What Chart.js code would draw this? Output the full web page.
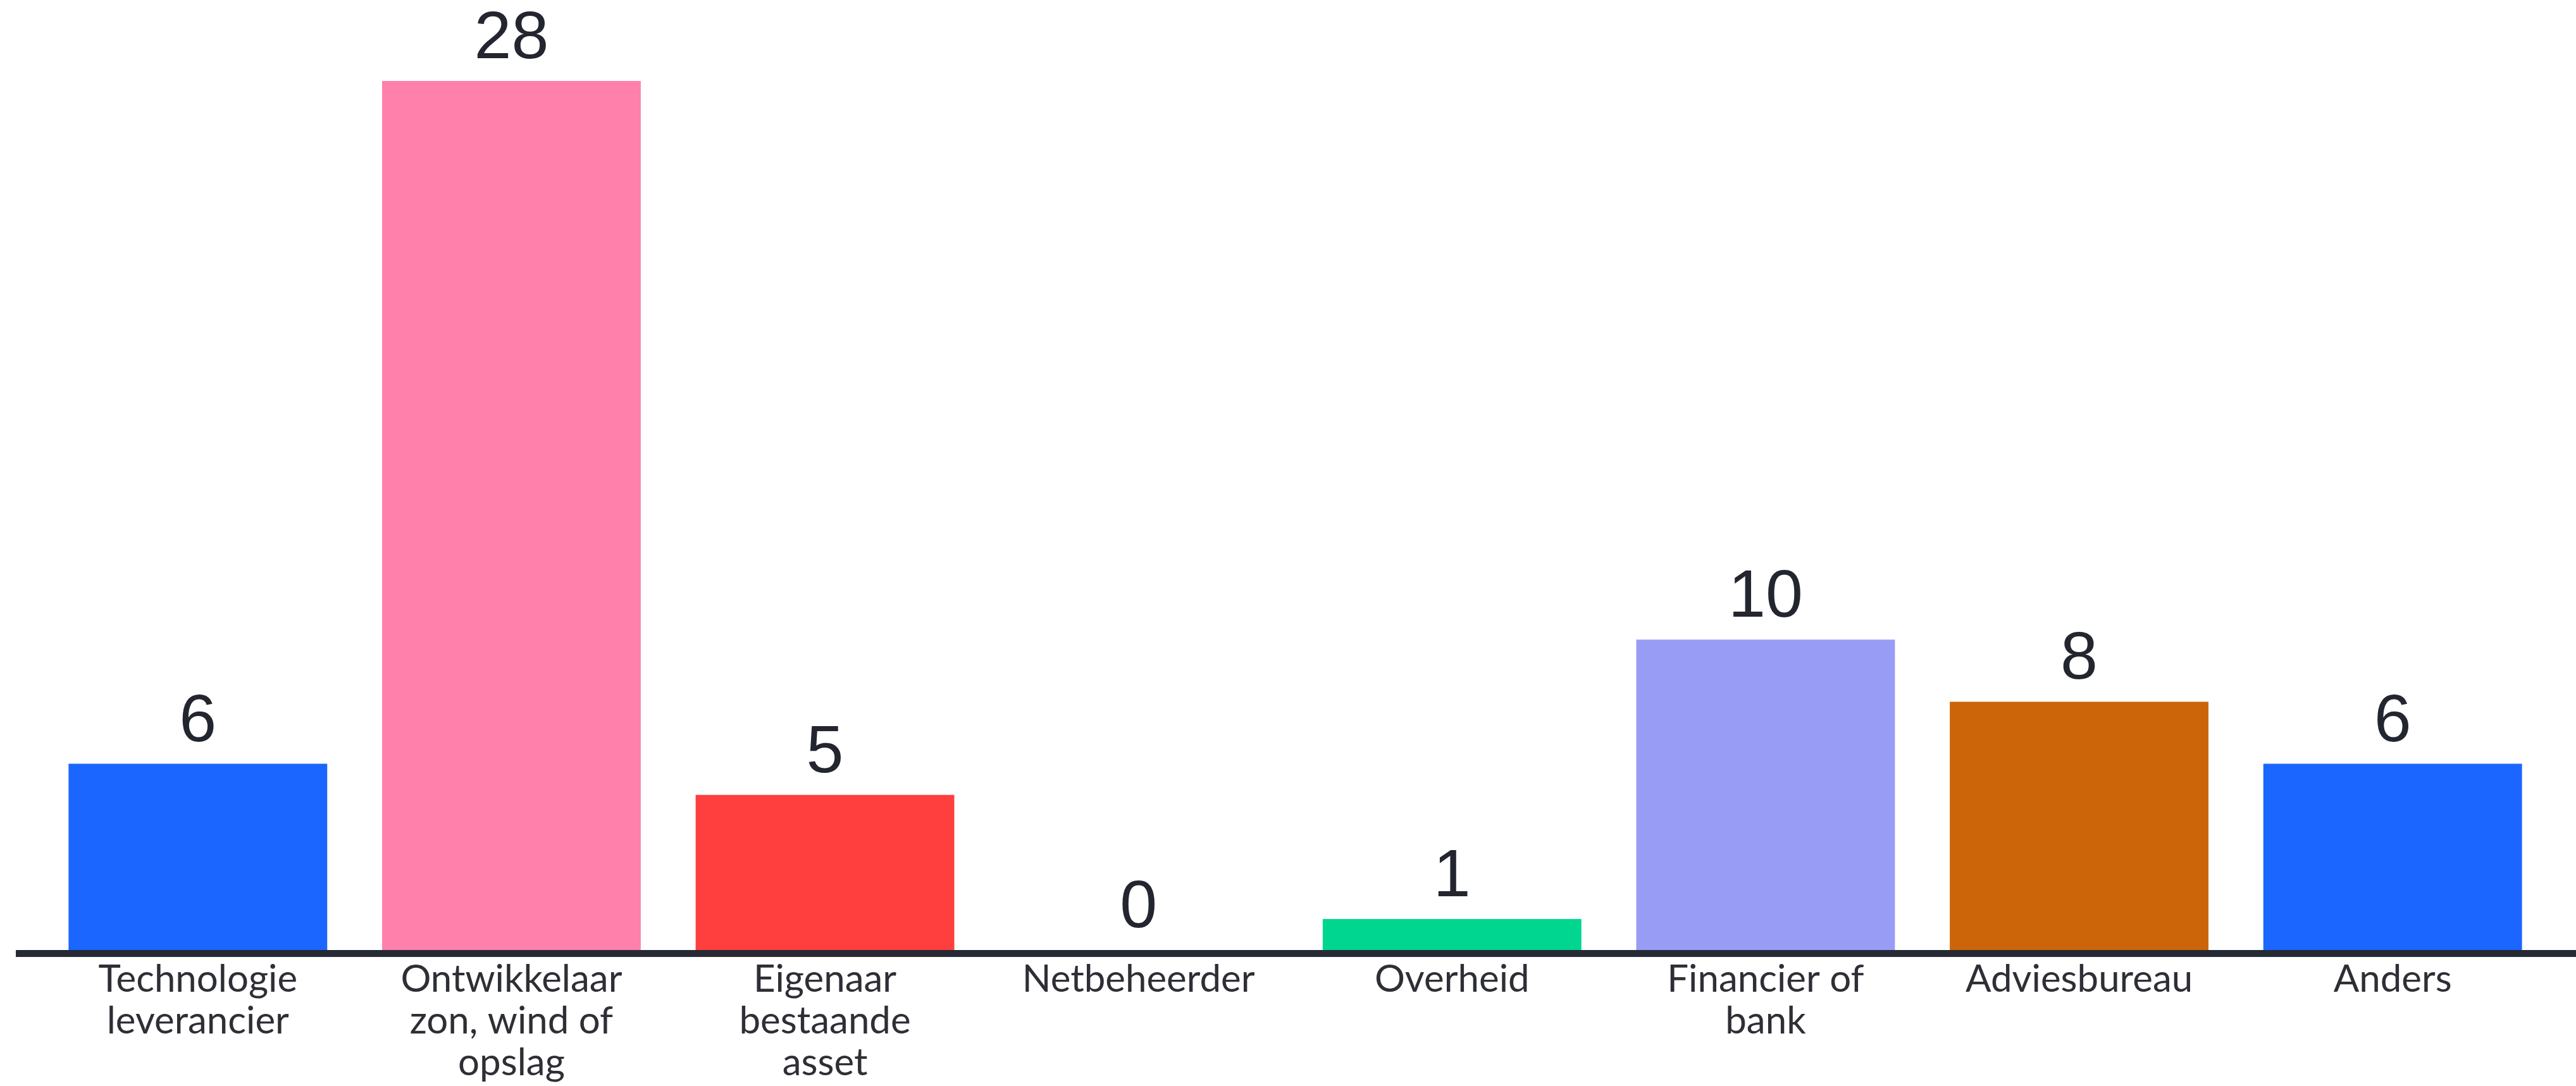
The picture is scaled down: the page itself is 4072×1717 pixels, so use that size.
<!DOCTYPE html>
<html>
<head>
<meta charset="utf-8">
<script src="https://cdn.jsdelivr.net/npm/chart.js@4/dist/chart.umd.min.js"></script>
<style>
  html, body { margin: 0; padding: 0; background: #ffffff; }
  #wrap { width: 4072px; height: 1717px; }
</style>
</head>
<body>
<div id="wrap"><canvas id="basechart" width="4072" height="1717"></canvas></div>
<script>
// Categories (multi-line labels as arrays)
const categories = [
    ['Technologie', 'leverancier'],
    ['Ontwikkelaar', 'zon, wind of', 'opslag'],
    ['Eigenaar', 'bestaande', 'asset'],
    'Netbeheerder',
    'Overheid',
    ['Financier of', 'bank'],
    'Adviesbureau',
    'Anders'
];

// Number of respondents per category
const counts = [6, 28, 5, 0, 1, 10, 8, 6];

const barColors = ['#1a66ff', '#ff80ab', '#ff3e3e', '#1a66ff', '#00d68f', '#989cf5', '#cc650a', '#1a66ff'];

// Draw the value above each bar
const valueLabels = {
    id: 'valueLabels',
    afterDatasetsDraw(chart) {
        const ctx = chart.ctx;
        const meta = chart.getDatasetMeta(0);
        ctx.save();
        ctx.font = '106px "Liberation Sans", Arial, sans-serif';
        ctx.fillStyle = '#23262f';
        ctx.textAlign = 'center';
        ctx.textBaseline = 'alphabetic';
        meta.data.forEach((bar, i) => {
            ctx.fillText(String(counts[i]), bar.x, bar.y - 36);
        });
        ctx.restore();
    }
};

// Thick base line running across the full width
const baseLine = {
    id: 'baseLine',
    afterDatasetsDraw(chart) {
        const ctx = chart.ctx;
        const y = chart.scales.y.getPixelForValue(0);
        ctx.save();
        ctx.fillStyle = '#262a35';
        ctx.fillRect(25, y, chart.width - 25, 11);
        ctx.restore();
    }
};

const chart = new Chart(document.getElementById('basechart').getContext('2d'), {
    type: 'bar',
    data: {
        labels: categories,
        datasets: [{
            data: counts,
            backgroundColor: barColors,
            borderWidth: 0,
            categoryPercentage: 1,
            barPercentage: 0.825
        }]
    },
    options: {
        responsive: false,
        devicePixelRatio: 1,
        animation: false,
        layout: {
            padding: { top: 128, left: 65, right: 42, bottom: 0 }
        },
        plugins: {
            legend: { display: false },
            title: { display: false },
            tooltip: { enabled: false }
        },
        scales: {
            y: {
                display: false,
                min: 0,
                max: 28
            },
            x: {
                grid: { display: false, drawTicks: false },
                border: { display: false },
                afterFit: (scale) => { scale.height = 215; },
                ticks: {
                    color: '#2e2f36',
                    padding: 14,
                    maxRotation: 0,
                    minRotation: 0,
                    autoSkip: false,
                    font: {
                        family: 'Lato',
                        size: 60,
                        lineHeight: 66 / 60
                    }
                }
            }
        }
    },
    plugins: [valueLabels, baseLine]
});
</script>
</body>
</html>
